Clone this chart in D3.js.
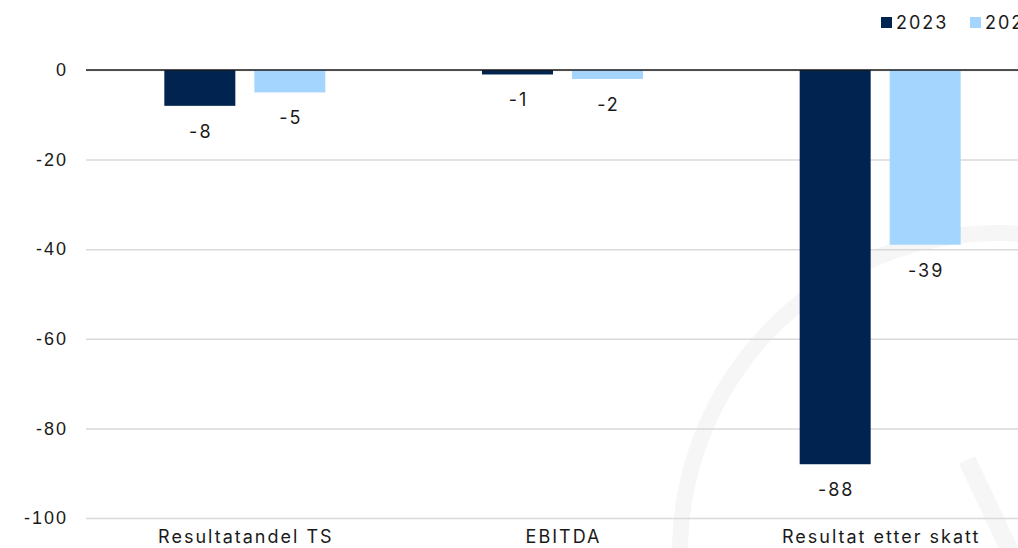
<!DOCTYPE html>
<html lang="sv">
<meta charset="utf-8">
<style>
body { margin: 0; background: #fff; }
svg { display: block; font-family: "Inter", "Roboto", sans-serif; letter-spacing: 2px; }
.grid line { stroke: #d9d9d9; stroke-width: 1.5px; }
.tick text { fill: #1a1a1a; font-size: 18px; }
</style>
<body>
<script src="https://d3js.org/d3.v7.min.js"></script>
<script>

var categories = ["Resultatandel TS", "EBITDA", "Resultat etter skatt"];
var seriesNames = ["2023", "2022"];
var values2023 = [-8, -1, -88];
var values2022 = [-5, -2, -39];
var yTicks = [0, -20, -40, -60, -80, -100];
var colors = ["#00234f", "#a3d5fe"];

var width = 1018, height = 548;
var x0 = 86, x1 = 1039, yTop = 70, yBottom = 518;

var svg = d3.select("body").append("svg")
    .attr("width", width)
    .attr("height", height);

// faint watermark behind the plot
svg.append("path")
    .attr("d", d3.arc()({innerRadius: 311, outerRadius: 327, startAngle: -Math.PI * 0.62, endAngle: Math.PI * 0.1}))
    .attr("transform", "translate(999,552)")
    .attr("fill", "#f6f6f6");
svg.append("line")
    .attr("x1", 967).attr("y1", 460).attr("x2", 1012).attr("y2", 555)
    .attr("stroke", "#f6f6f6").attr("stroke-width", 18);

var x = d3.scaleBand().domain(categories).range([x0, x1]);
var y = d3.scaleLinear().domain([-100, 0]).range([yBottom, yTop]);

var barW = 71, gap = 19;
var offsets = [-(barW + gap / 2), gap / 2];

// gridlines + y labels
var yAxis = svg.append("g")
    .attr("class", "grid")
    .attr("transform", "translate(" + x0 + ",0)")
    .call(d3.axisLeft(y).tickValues(yTicks).tickSize(-(x1 - x0)).tickPadding(18)
      .tickFormat(function(d) { return String(d); }));
yAxis.select(".domain").remove();

var data = [values2023, values2022];

data.forEach(function(vals, s) {
  svg.selectAll(".bar" + s)
      .data(vals)
    .enter().append("rect")
      .attr("x", function(d, i) { return x(categories[i]) + x.bandwidth() / 2 + offsets[s]; })
      .attr("y", y(0))
      .attr("width", barW)
      .attr("height", function(d) { return y(d) - y(0); })
      .attr("fill", colors[s]);

  svg.selectAll(".lab" + s)
      .data(vals)
    .enter().append("text")
      .attr("x", function(d, i) { return x(categories[i]) + x.bandwidth() / 2 + offsets[s] + barW / 2 + 1; })
      .attr("y", function(d) { return y(d) + 32; })
      .attr("text-anchor", "middle")
      .style("font-size", "18px")
      .style("fill", "#1a1a1a")
      .text(function(d) { return d; });
});

// zero line
svg.append("line")
    .attr("x1", x0).attr("x2", x1)
    .attr("y1", y(0)).attr("y2", y(0))
    .attr("stroke", "#1a1a1a").attr("stroke-width", 1.5);

// category labels
svg.selectAll(".cat")
    .data(categories)
  .enter().append("text")
    .attr("x", function(d) { return x(d) + x.bandwidth() / 2 + 1; })
    .attr("y", 543)
    .attr("text-anchor", "middle")
    .style("font-size", "18px")
    .style("fill", "#1a1a1a")
    .text(function(d) { return d; });

// legend
var legX = [881, 970];
seriesNames.forEach(function(name, i) {
  svg.append("rect")
      .attr("x", legX[i]).attr("y", 17)
      .attr("width", 11).attr("height", 11)
      .attr("fill", colors[i]);
  svg.append("text")
      .attr("x", legX[i] + 15).attr("y", 29)
      .style("font-size", "18px")
      .style("fill", "#1a1a1a")
      .text(name);
});

</script>
</body>
</html>
